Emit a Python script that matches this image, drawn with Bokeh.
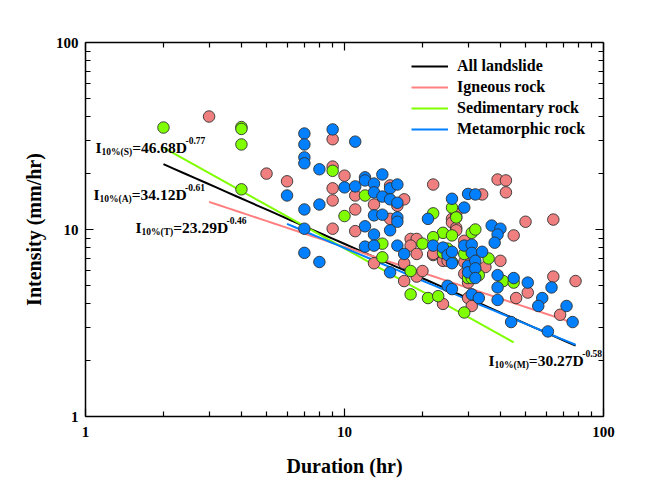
import numpy as np
from bokeh.plotting import figure
from bokeh.models import (Range1d, LogAxis, FixedTicker, Label, Legend,
                          LegendItem, CustomJSTickFormatter)
from bokeh.embed import file_html
from bokeh.resources import INLINE

# ---------------- data ----------------
igneous_D = [3, 5, 6, 9, 9, 10, 9, 9, 9, 11, 11, 11, 13, 15, 15, 16, 17, 22,
             13, 17, 17, 18, 19, 18, 19, 19, 20, 22, 22, 24, 25, 24,
             26, 27, 27, 26, 27, 27, 29, 29, 29, 30, 30, 31,
             34, 35, 39, 42, 42, 40, 45, 50, 64, 64, 46, 51, 68, 78]
igneous_I = [40.2, 19.9, 18.1, 30.4, 21.7, 19.4, 16.6, 14.3, 10.1, 15.2, 12.8, 9.8,
             13.6, 17.2, 11.4, 13.4, 14.5, 17.4,
             6.6, 6.6, 5.3, 8.9, 8.9, 8.2, 7.4, 5.6, 6.0, 7.3, 7.4, 6.8, 6.8, 4.0,
             11.4, 12.2, 11.6, 10.9, 10.2, 9.9, 8.7, 6.7, 5.8, 5.2, 4.3, 3.9,
             15.4, 6.3, 18.5, 18.3, 15.8, 6.8, 9.3, 11.0, 11.3, 5.6, 4.3, 4.6, 3.5, 5.3]

sedimentary_D = [2, 4, 4, 4, 4, 9, 10, 12, 14, 14, 18, 18, 21, 23, 29, 22, 20, 24,
                 26, 26, 27, 24, 25, 26, 29, 31, 32, 30, 31, 33, 36, 41, 45, 22]
sedimentary_I = [35.1, 35.3, 34.5, 28.5, 16.4, 20.6, 11.8, 15.2, 8.4, 7.1, 6.0, 4.5,
                 4.3, 4.4, 3.6, 12.2, 8.4, 9.6, 9.3, 13.1, 11.6, 7.5, 7.9, 6.7, 7.4,
                 9.6, 10.0, 5.5, 5.5, 5.7, 7.0, 5.3, 5.2, 9.1]

metamorphic_D = [6, 7, 7, 7, 7, 7, 7, 7, 8, 8, 8, 9, 10, 11, 11, 12, 12, 12, 12,
                 13, 13, 13, 13, 13, 14, 14, 14, 15, 15, 15, 15, 16, 16, 16, 16, 16,
                 17, 21, 22, 24, 25, 26, 26, 26, 29, 29, 25, 26, 30, 32, 30, 30,
                 31, 31, 32, 32, 32, 31, 33, 34, 37, 40, 39, 38, 39, 39, 39,
                 45, 51, 44, 58, 56, 63, 61, 72, 76]
metamorphic_I = [15.2, 32.6, 28.5, 24.3, 22.6, 12.8, 10.1, 7.5, 21.0, 13.6, 6.7, 34.3,
                 16.8, 29.5, 17.0, 19.0, 18.3, 10.4, 8.1, 17.6, 15.8, 11.9, 9.4, 8.2,
                 19.7, 15.0, 12.0, 16.6, 14.5, 9.9, 5.9, 17.4, 13.9, 11.6, 11.0, 8.2,
                 7.4, 11.4, 8.2, 8.0, 7.3, 7.6, 6.6, 14.6, 13.1, 8.2, 5.0, 4.8,
                 15.5, 15.4, 6.4, 5.9, 8.3, 7.5, 6.8, 6.2, 5.5, 4.5, 4.3, 7.6,
                 10.5, 10.1, 9.4, 8.5, 5.7, 4.9, 4.2, 5.5, 5.2, 3.2, 4.3, 3.9, 4.9,
                 2.85, 3.9, 3.2]

# threshold fits  I = a * D^b
fit_names = ["All landslide", "Igneous rock", "Sedimentary rock", "Metamorphic rock"]
fit_keys = ["A", "T", "S", "M"]
fit_a = [34.12, 23.29, 46.68, 30.27]
fit_b = [-0.61, -0.46, -0.77, -0.58]
fit_start = [2, 3, 2, 6]
fit_end = [78, 78, 45, 78]

axis_ticks = [1, 10, 100]
axis_tick_labels = ["1", "10", "100"]
minor_ticks = [2, 3, 4, 5, 6, 7, 8, 9, 20, 30, 40, 50, 60, 70, 80, 90]

# ---------------- styles ----------------
FONT = "Liberation Serif"
line_colors = ["#000000", "#FF8080", "#80FF00", "#0080FF"]
marker_fill = {"ign": "#F08080", "sed": "#80FF00", "met": "#0080FF"}

p = figure(width=666, height=481, x_axis_type="log", y_axis_type="log",
           x_range=Range1d(1, 100), y_range=Range1d(1, 100),
           output_backend="svg", toolbar_location=None,
           min_border_left=85, min_border_right=63,
           min_border_top=42, min_border_bottom=65)
p.grid.visible = False
p.outline_line_color = None
p.background_fill_color = "white"

# fit lines
line_renderers = []
for a, b, s, e, c in zip(fit_a, fit_b, fit_start, fit_end, line_colors):
    d = np.logspace(np.log10(s), np.log10(e), 40)
    r = p.line(d, a * d ** b, line_color=c, line_width=2)
    line_renderers.append(r)

# scatter points
for D, I, key in [(igneous_D, igneous_I, "ign"),
                  (sedimentary_D, sedimentary_I, "sed"),
                  (metamorphic_D, metamorphic_I, "met")]:
    p.scatter(D, I, size=11.5, fill_color=marker_fill[key],
              line_color="#303030", line_width=0.9)

label_fmt = CustomJSTickFormatter(
    args=dict(vals=axis_ticks, labs=axis_tick_labels),
    code="""
    for (let i = 0; i < vals.length; i++) {
        if (Math.abs(tick - vals[i]) < 1e-9 * vals[i]) return labs[i];
    }
    return '';
    """)
blank_fmt = CustomJSTickFormatter(code="return ' ';")

# axes
def style_axis(ax, labels):
    ax.ticker = FixedTicker(ticks=axis_ticks, minor_ticks=minor_ticks)
    ax.axis_line_color = "black"
    ax.axis_line_width = 1.5
    ax.major_tick_in = 8
    ax.major_tick_out = 0
    ax.minor_tick_in = 5
    ax.minor_tick_out = 0
    ax.major_tick_line_color = "black"
    ax.minor_tick_line_color = "black"
    ax.major_tick_line_width = 1.2
    ax.minor_tick_line_width = 1.2
    ax.major_label_text_font = FONT
    ax.major_label_text_font_style = "bold"
    ax.major_label_text_font_size = "15px"
    ax.major_label_text_color = "black"
    if labels:
        ax.formatter = label_fmt
        ax.axis_label_text_font = FONT
        ax.axis_label_text_font_style = "bold"
        ax.axis_label_text_font_size = "20px"
        ax.axis_label_text_color = "black"
    else:
        ax.formatter = blank_fmt
        ax.major_label_standoff = 0

p.add_layout(LogAxis(), "right")
p.add_layout(LogAxis(), "above")

xa = p.below[0]
ya = p.left[0]
style_axis(xa, True)
style_axis(ya, True)
style_axis(p.right[0], False)
style_axis(p.above[0], False)
xa.axis_label = "Duration (hr)"
ya.axis_label = "Intensity (mm/hr)"
xa.major_label_standoff = 10
xa.axis_label_standoff = 15
ya.major_label_standoff = 7
ya.axis_label_standoff = 8

# legend
legend = Legend(items=[LegendItem(label=n, renderers=[r])
                       for n, r in zip(fit_names, line_renderers)],
                location=(326, 277), orientation="vertical",
                label_text_font=FONT, label_text_font_style="bold",
                label_text_font_size="16px", label_text_color="black",
                glyph_width=37, glyph_height=20, label_height=20,
                spacing=1, padding=0, margin=0, label_standoff=9,
                border_line_color=None, background_fill_alpha=0)
p.add_layout(legend)

# equation annotations built of main/sub/superscript pieces
W = {"I": 389, "0": 500, "1": 500, "2": 500, "3": 500, "4": 500, "5": 500,
     "6": 500, "7": 500, "8": 500, "9": 500, "%": 1000, "(": 333, ")": 333,
     "S": 556, "A": 722, "T": 667, "M": 944, "=": 570, ".": 250, "D": 722,
     "-": 333}

def tw(s, size):
    return sum(W.get(ch, 500) for ch in s) * size / 1000.0

MAIN, SMALL = 15.5, 9.5
# (frame-relative screen x of "I", baseline y) for each equation
eq_pos = {"S": (10, 269), "A": (8, 222), "T": (50, 189), "M": (403, 56)}
for key, a, b in zip(fit_keys, fit_a, fit_b):
    x0, y0 = eq_pos[key]
    parts = [("I", MAIN, 0, 0),
             ("10%(" + key + ")", SMALL, -4, 0),
             ("=%.2fD" % a, MAIN, 0, 0),
             ("%.2f" % b, SMALL, 7.5, -1.5)]
    x = x0
    for txt, size, dy, dx in parts:
        x += dx
        p.add_layout(Label(x=x, y=y0 + dy, x_units="screen", y_units="screen",
                           text=txt, text_font=FONT, text_font_style="bold",
                           text_font_size="%gpx" % size, text_color="black",
                           text_baseline="alphabetic", text_align="left"))
        x += tw(txt, size)

open("out.html", "w").write(file_html(p, INLINE))
